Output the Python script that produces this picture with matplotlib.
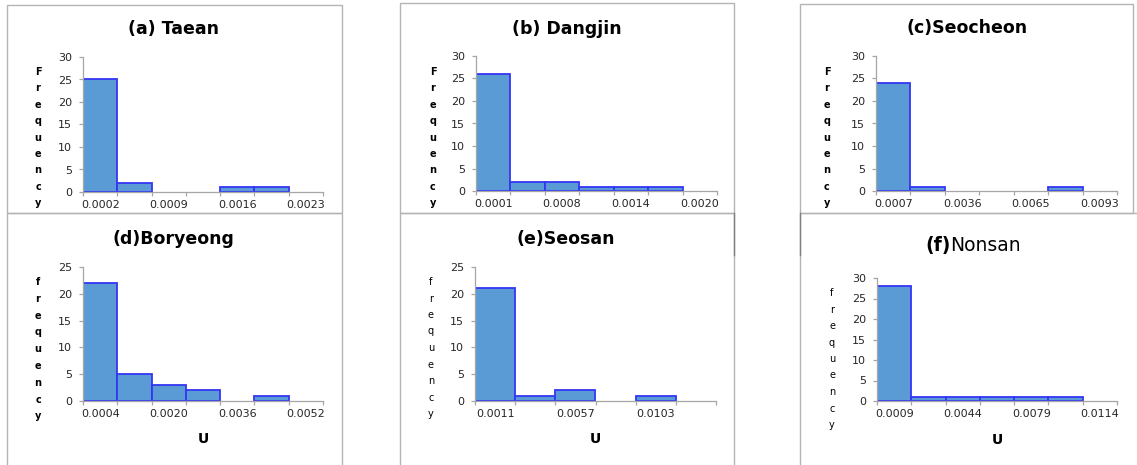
import matplotlib
matplotlib.use("Agg")
import matplotlib.pyplot as plt
from matplotlib.patches import Rectangle
from matplotlib.lines import Line2D

W, H = 1137, 465

# histogram counts per station (equal-width bins) and the bin labels shown
taean_counts = [25, 2, 0, 0, 1, 1, 0]
taean_labels = ["0.0002", "0.0009", "0.0016", "0.0023"]
dangjin_counts = [26, 2, 2, 1, 1, 1, 0]
dangjin_labels = ["0.0001", "0.0008", "0.0014", "0.0020"]
seocheon_counts = [24, 1, 0, 0, 0, 1, 0]
seocheon_labels = ["0.0007", "0.0036", "0.0065", "0.0093"]
boryeong_counts = [22, 5, 3, 2, 0, 1, 0]
boryeong_labels = ["0.0004", "0.0020", "0.0036", "0.0052"]
seosan_counts = [21, 1, 2, 0, 1, 0]
seosan_labels = ["0.0011", "0.0057", "0.0103"]
nonsan_counts = [28, 1, 1, 1, 1, 1, 0]
nonsan_labels = ["0.0009", "0.0044", "0.0079", "0.0114"]
y_max = [30, 30, 30, 25, 25, 30]

titles = ["(a) Taean", "(b) Dangjin", "(c)Seocheon", "(d)Boryeong", "(e)Seosan", None]
ylabels = ["Frequency", "Frequency", "Frequency", "frequency", "frequency", "frequency"]

counts = [taean_counts, dangjin_counts, seocheon_counts,
          boryeong_counts, seosan_counts, nonsan_counts]
labels = [taean_labels, dangjin_labels, seocheon_labels,
          boryeong_labels, seosan_labels, nonsan_labels]

# layout in pixels: axes box (left, top, right, bottom)
axes_px = [(83, 57, 323, 192), (476, 56, 717, 191), (876, 56, 1117, 191),
           (83, 267, 323, 401), (475, 267, 716, 401), (877, 278, 1117, 401)]
frames_px = [(7, 5, 342, 213), (400, 3, 734, 213), (800, 4, 1133, 213),
             (7, 213, 342, 470), (400, 213, 734, 470), (800, 213, 1142, 470)]
title_px = [(174, 29), (567, 29), (967, 28), (173, 239), (566, 239), (973, 245)]
ylab_px = [(38, 72), (433, 72), (827, 72), (38, 282), (431, 282), (832, 293)]
ylab_step = [16.4, 16.4, 16.4, 16.8, 16.5, 16.5]
ylab_bold = [True, True, True, True, False, False]
xlab_px = [None, None, None, (203, 439), (595, 439), (997, 440)]

plt.rcParams["font.family"] = ["DejaVu Sans"]
TEXT = "#262626"
AXIS = "#A6A6A6"

fig = plt.figure(figsize=(W / 100, H / 100), dpi=100)


def fx(x):
    return x / W


def fy(y):
    return 1 - y / H


for i in range(6):
    l, t, r, b = frames_px[i]
    fig.patches.append(Rectangle((fx(l), fy(b)), fx(r - l), (b - t) / H,
                                 transform=fig.transFigure, fill=False,
                                 edgecolor="#B4B4B4", linewidth=1.0))

    l, t, r, b = axes_px[i]
    ax = fig.add_axes([fx(l), fy(b), fx(r - l), (b - t) / H])
    c = counts[i]
    n = len(c)
    edge = ["#3535F5" if v > 0 else "none" for v in c]
    ax.bar(range(n), c, width=1.0, color="#5B9BD5", edgecolor=edge, linewidth=1.3)
    ax.set_xlim(-0.5, n - 0.5)
    ax.set_ylim(0, y_max[i])
    for s in ("top", "right"):
        ax.spines[s].set_visible(False)
    for s in ("left", "bottom"):
        ax.spines[s].set_color(AXIS)
        ax.spines[s].set_linewidth(0.9)

    ax.set_xticks([k - 0.5 for k in range(n + 1)], minor=True)
    ax.set_xticks(list(range(0, n, 2))[:len(labels[i])])
    ax.set_xticklabels(labels[i])
    ax.tick_params(axis="x", which="major", length=0, pad=6, labelsize=8,
                   labelcolor=TEXT)
    ax.tick_params(axis="x", which="minor", length=3, width=0.9, color=AXIS)
    ax.set_yticks(range(0, y_max[i] + 1, 5))
    ax.tick_params(axis="y", length=3, width=0.9, color=AXIS, pad=5,
                   labelsize=8, labelcolor=TEXT)

    # vertical stacked axis label
    x0, y0 = ylab_px[i]
    for k, ch in enumerate(ylabels[i]):
        fig.text(fx(x0), fy(y0 + k * ylab_step[i]), ch, ha="center", va="center",
                 fontsize=7, color="black",
                 fontweight="bold" if ylab_bold[i] else "normal")

    if xlab_px[i] is not None:
        fig.text(fx(xlab_px[i][0]), fy(xlab_px[i][1]), "U", ha="center",
                 va="center", fontsize=10, fontweight="bold", color="black")

    if titles[i] is not None:
        fig.text(fx(title_px[i][0]), fy(title_px[i][1]), titles[i], ha="center",
                 va="center", fontsize=12.5, fontweight="bold", color="black")

# darker edge segments where the bottom panels meet
for xs, ys in (((734, 734), (213, 255)), ((800, 800), (213, 255))):
    fig.lines.append(Line2D([fx(v) for v in xs], [fy(v) for v in ys],
                            transform=fig.transFigure, color="#808080",
                            linewidth=1.0))

# (f) title: bold tag followed by regular station name
renderer = fig.canvas.get_renderer()
tx, ty = title_px[5]
tag = fig.text(0, fy(ty), "(f)", ha="left", va="center", fontsize=13.5,
               fontweight="bold", color="black")
name = fig.text(0, fy(ty), "Nonsan", ha="left", va="center", fontsize=13.5,
                color="black")
w_tag = tag.get_window_extent(renderer).width
w_name = name.get_window_extent(renderer).width
start = tx - (w_tag + w_name) / 2
tag.set_x(fx(start))
name.set_x(fx(start + w_tag))

fig.savefig("out.png", dpi=100)
